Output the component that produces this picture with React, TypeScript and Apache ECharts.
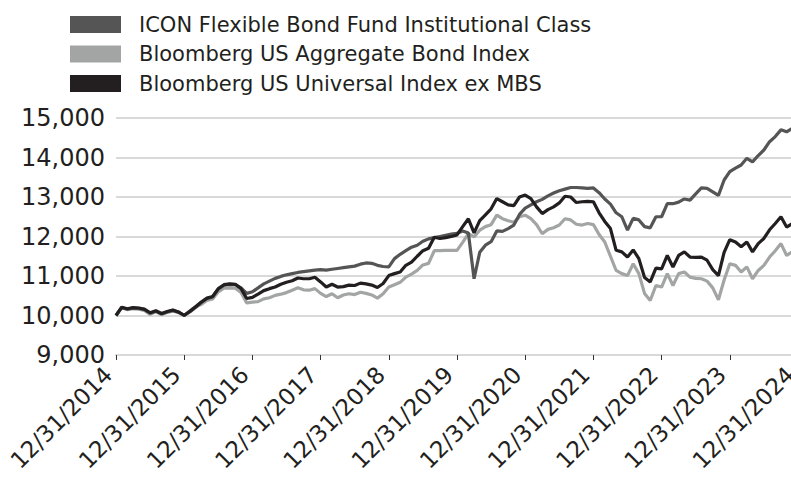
import React, { useEffect, useRef } from "react";
import * as echarts from "echarts";

const seriesNames = [
  "ICON Flexible Bond Fund Institutional Class",
  "Bloomberg US Aggregate Bond Index",
  "Bloomberg US Universal Index ex MBS",
];

const yearEndLabels = [
  "12/31/2014", "12/31/2015", "12/31/2016", "12/31/2017", "12/31/2018", "12/31/2019",
  "12/31/2020", "12/31/2021", "12/31/2022", "12/31/2023", "12/31/2024",
];

const iconFund = [
  10000, 10200, 10160, 10190, 10180, 10150, 10060, 10110, 10040, 10090, 10130, 10080,
  10010, 10090, 10200, 10330, 10430, 10470, 10670, 10770, 10790, 10780, 10700, 10560,
  10600, 10700, 10800, 10870, 10940, 10990, 11030, 11060, 11090, 11110, 11130, 11150,
  11160, 11150, 11170, 11190, 11210, 11230, 11250, 11300, 11330, 11320, 11270, 11240,
  11230, 11440, 11550, 11640, 11730, 11780, 11880, 11940, 11970, 12000, 12030, 12060,
  12080, 12140, 12090, 10930, 11600, 11780, 11870, 12140, 12130, 12200, 12290, 12560,
  12720, 12800, 12880, 12940, 13030, 13100, 13160, 13200, 13240, 13240, 13230, 13220,
  13230, 13110, 12950, 12820, 12600, 12500, 12160, 12460, 12420, 12250, 12220, 12500,
  12500, 12830, 12830, 12870, 12950, 12920, 13080, 13230, 13220, 13130, 13040, 13430,
  13640, 13730, 13810, 13980, 13890, 14050, 14190, 14400, 14530, 14700, 14650, 14740,
  14760,
];

const aggIndex = [
  10000, 10200, 10150, 10170, 10160, 10130, 10030, 10100, 10020, 10080, 10110, 10080,
  10000, 10120, 10230, 10280, 10380, 10420, 10600, 10690, 10700, 10690, 10580, 10320,
  10340, 10350, 10420, 10450, 10510, 10540, 10580, 10640, 10700, 10650, 10640, 10680,
  10560, 10480, 10550, 10450, 10520, 10550, 10530, 10590, 10560, 10520, 10440, 10550,
  10720, 10780, 10840, 10970, 11050, 11140, 11280, 11320, 11640, 11640, 11650, 11650,
  11650, 11850, 12070, 11990, 12160, 12250, 12300, 12540, 12450, 12400, 12360, 12500,
  12540, 12450, 12300, 12070, 12180, 12220, 12290, 12450, 12420, 12310, 12290, 12330,
  12300, 12050, 11860, 11500, 11140, 11060, 11010, 11310, 11060, 10560, 10380, 10760,
  10720, 11060, 10760, 11060, 11100, 10970, 10940, 10930, 10870, 10700, 10400, 10900,
  11310, 11270, 11100, 11230, 10930, 11140, 11270, 11480, 11640, 11820, 11520, 11610,
  11560,
];

const universalExMbs = [
  10000, 10210, 10170, 10200, 10190, 10160, 10070, 10120, 10050, 10100, 10140, 10090,
  10000, 10110, 10220, 10340, 10440, 10480, 10680, 10780, 10800, 10790, 10680, 10430,
  10460, 10540, 10630, 10680, 10720, 10790, 10840, 10880, 10950, 10930, 10930, 10970,
  10850, 10720, 10790, 10720, 10730, 10770, 10760, 10820, 10800, 10770, 10710, 10810,
  11010, 11060, 11100, 11270, 11350, 11500, 11640, 11700, 11980, 11950, 11970, 12000,
  12040, 12250, 12450, 12090, 12400, 12550, 12700, 12960, 12880, 12800, 12780, 13000,
  13050, 12960, 12750, 12580, 12680, 12750, 12850, 13020, 13000, 12860, 12880, 12890,
  12880, 12600, 12380, 12200, 11650, 11610, 11480, 11660, 11440, 10960, 10850, 11200,
  11180, 11520, 11230, 11520, 11610, 11480, 11470, 11480, 11400, 11160, 11010, 11600,
  11920, 11860, 11740, 11860, 11610, 11820, 11950, 12170, 12330, 12500, 12240, 12330,
  12300,
];

const yTicks = { min: 9000, max: 15000, interval: 1000 };

// monthly category keys; only year-end ones get shown as labels
const categories: string[] = [];
for (let i = 0; i < iconFund.length; i++) {
  if (i % 12 === 0) categories.push(yearEndLabels[i / 12]);
  else categories.push("m" + i);
}

const colors = {
  icon: "#555555",
  agg: "#a3a5a5",
  univ: "#231f20",
};

export default function App() {
  const ref = useRef<HTMLDivElement>(null);
  useEffect(() => {
    if (!ref.current) return;
    const chart = echarts.init(ref.current, undefined, { renderer: "svg" });
    chart.setOption({
      animation: false,
      backgroundColor: "#ffffff",
      legend: {
        orient: "vertical",
        left: 65,
        top: 9,
        itemWidth: 51,
        itemHeight: 17,
        itemGap: 8.5,
        icon: "rect",
        data: [
          { name: seriesNames[0], itemStyle: { color: colors.icon } },
          { name: seriesNames[1], itemStyle: { color: colors.agg } },
          { name: seriesNames[2], itemStyle: { color: colors.univ } },
        ],
        textStyle: {
          fontFamily: "DejaVu Sans",
          fontSize: 21,
          lineHeight: 21,
          color: "#231f20",
          padding: [0, 0, 0, 13],
        },
      },
      grid: {
        left: 116,
        right: -7,
        top: 118,
        bottom: 130,
        containLabel: false,
        outerBoundsMode: "none",
      },
      xAxis: {
        type: "category",
        data: categories,
        boundaryGap: false,
        axisLine: { show: true, lineStyle: { color: "#d9d9d9", width: 2 } },
        axisTick: { show: true, interval: 11, length: 5, lineStyle: { color: "#333333", width: 1 } },
        axisLabel: {
          interval: 11,
          rotate: 45,
          margin: 8,
          fontFamily: "DejaVu Sans",
          fontSize: 23,
          color: "#231f20",
          hideOverlap: false,
          padding: [0, 11, 0, 0],
        },
        splitLine: { show: false },
      },
      yAxis: {
        type: "value",
        min: yTicks.min,
        max: yTicks.max,
        interval: yTicks.interval,
        axisLine: { show: false },
        axisTick: { show: false },
        axisLabel: {
          margin: 11,
          fontFamily: "DejaVu Sans",
          fontSize: 24,
          color: "#231f20",
          formatter: (v: number) => v.toLocaleString("en-US"),
        },
        splitLine: { show: true, lineStyle: { color: "#d9d9d9", width: 2 } },
      },
      series: [
        {
          name: seriesNames[1],
          type: "line",
          data: aggIndex,
          symbol: "none",
          lineStyle: { color: colors.agg, width: 3.2 },
          itemStyle: { color: colors.agg },
        },
        {
          name: seriesNames[0],
          type: "line",
          data: iconFund,
          symbol: "none",
          lineStyle: { color: colors.icon, width: 3.2 },
          itemStyle: { color: colors.icon },
        },
        {
          name: seriesNames[2],
          type: "line",
          data: universalExMbs,
          symbol: "none",
          lineStyle: { color: colors.univ, width: 3.2 },
          itemStyle: { color: colors.univ },
        },
      ],
    });
    return () => chart.dispose();
  }, []);
  return <div ref={ref} style={{ width: 791, height: 485, position: "absolute", left: 0, top: 0 }} />;
}
